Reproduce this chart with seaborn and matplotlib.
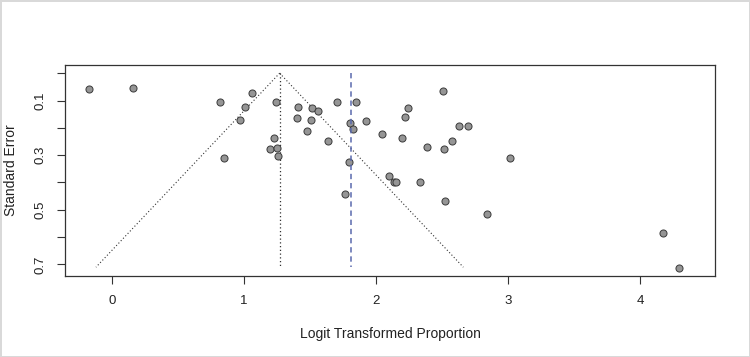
import matplotlib
matplotlib.use('Agg')
import matplotlib.pyplot as plt
import seaborn as sns
import numpy as np
import pandas as pd

# study estimates (logit proportion) and their standard errors
logit_prop = [-0.177, 0.159, 0.816, 1.061, 1.010, 0.972, 0.848, 1.240, 1.225, 1.197,
              1.250, 1.255, 1.407, 1.400, 1.480, 1.515, 1.563, 1.510, 1.636, 1.705,
              1.800, 1.823, 1.848, 1.798, 1.768, 1.924, 2.043, 2.197, 2.217, 2.242,
              2.096, 2.134, 2.152, 2.336, 2.384, 2.505, 2.517, 2.523, 2.578, 2.629,
              2.700, 2.838, 3.015, 4.172, 4.293]
std_err = [0.059, 0.055, 0.104, 0.073, 0.122, 0.170, 0.309, 0.106, 0.237, 0.276,
           0.272, 0.303, 0.122, 0.164, 0.212, 0.126, 0.137, 0.170, 0.248, 0.106,
           0.181, 0.206, 0.106, 0.324, 0.442, 0.176, 0.221, 0.239, 0.159, 0.128,
           0.375, 0.400, 0.400, 0.397, 0.270, 0.065, 0.276, 0.467, 0.250, 0.192,
           0.194, 0.514, 0.309, 0.584, 0.714]

funnel_centre = 1.27   # fixed effect estimate
pooled_est = 1.81      # random effects estimate
se_max = 0.71
x_ticks = [0, 1, 2, 3, 4]
y_ticks = [0.0, 0.1, 0.2, 0.3, 0.4, 0.5, 0.6, 0.7]
y_ticklabels = ['', '0.1', '', '0.3', '', '0.5', '', '0.7']

df = pd.DataFrame({'logit': logit_prop, 'se': std_err})

sns.set_theme(style="ticks")
plt.rcParams['font.family'] = ['Liberation Sans', 'DejaVu Sans']

fig = plt.figure(figsize=(7.5, 3.57), dpi=100)
fig.patch.set_edgecolor('#d9d9d9')
fig.patch.set_linewidth(2)
ax = fig.add_axes([0.0867, 0.227, 0.8666, 0.591])

# funnel
se_line = np.array([0.0, se_max])
ax.plot(funnel_centre - 1.96 * se_line, se_line, color='#333333', lw=0.8, ls=(0, (1, 2)))
ax.plot(funnel_centre + 1.96 * se_line, se_line, color='#333333', lw=0.8, ls=(0, (1, 2)))
ax.plot([funnel_centre, funnel_centre], se_line, color='#333333', lw=0.9, ls=(0, (1, 2)))

sns.scatterplot(data=df, x='logit', y='se', ax=ax, color='#959595',
                edgecolor='#3a3a3a', linewidth=0.7, s=26, zorder=3)

ax.plot([pooled_est, pooled_est], se_line, color='#5a6aae', lw=1.1, ls=(0, (3.5, 2.5)), zorder=4)

ax.set_xlim(-0.356, 4.568)
ax.set_ylim(0.742, -0.03)
ax.set_xticks(x_ticks)
ax.set_yticks(y_ticks)
ax.set_yticklabels(y_ticklabels, rotation=90, va='center')
ax.tick_params(axis='both', length=6, width=0.8, color='#333333', labelsize=9.5,
               labelcolor='#222222', pad=7)
ax.tick_params(axis='x', pad=8)
for sp in ax.spines.values():
    sp.set_visible(True)
    sp.set_linewidth(0.9)
    sp.set_color('#333333')

ax.set_xlabel('Logit Transformed Proportion', fontsize=10, color='#222222', labelpad=14)
ax.set_ylabel('Standard Error', fontsize=10, color='#222222', labelpad=12)

plt.savefig('out.png', dpi=100)
plt.close()
